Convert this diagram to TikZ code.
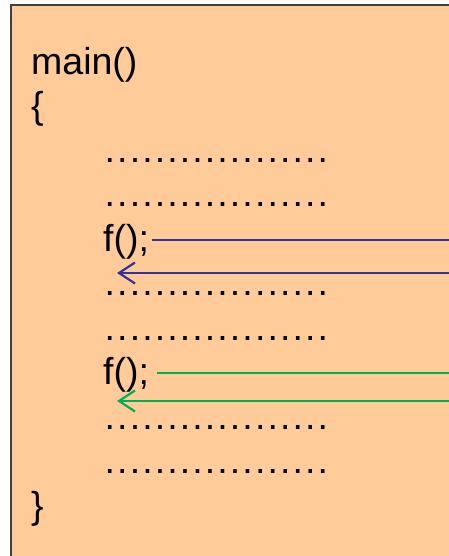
\documentclass[tikz,border=0pt]{standalone}
\usepackage{fontspec}
\setmainfont{Liberation Sans}
\usetikzlibrary{arrows.meta}
\definecolor{peach}{HTML}{FFCC99}
\definecolor{boxgray}{HTML}{404040}
\definecolor{callblue}{HTML}{333399}
\definecolor{callgreen}{HTML}{00B050}
\newcommand\codedots{\foreach \k in {1,...,17}{.\kern2.1pt}.}
\tikzset{
  code/.style={anchor=base west, inner sep=0pt, font=\fontsize{37.5}{45}\selectfont},
  callline/.style={line width=2pt},
  retline/.style={line width=2.2pt, -{Straight Barb[length=16pt, width=21pt]}},
}
\begin{document}
\begin{tikzpicture}[x=1pt, y=-1pt]
  \useasboundingbox (0,0) rectangle (449,556);
  \clip (0,0) rectangle (449,556);
  \fill[peach] (11,5) rectangle (460,570);
  \draw[boxgray, line width=1.5pt] (460,5) -- (11,5) -- (11,570);
  % code lines
  \node[code] (head) at (31,75) {main()};
  \node[code] (open) at (31,119) {\{};
  \foreach \row in {2,3,5,6,8,9}
    \node[code] (dots\row) at (104.5,73+44.5*\row) {\codedots};
  \node[code] (fa) at (103,251) {f();};
  \node[code] (fb) at (103,384.5) {f();};
  \node[code] (close) at (31,518) {\}};
  % calls and returns
  \coordinate (outa) at (449,240);
  \coordinate (backa) at (449,273);
  \coordinate (outb) at (449,373);
  \coordinate (backb) at (449,401);
  \draw[callline, callblue] ([xshift=3pt]fa.east |- outa) -- (outa);
  \draw[retline, callblue] (backa) -- ([xshift=14pt]fa.west |- backa);
  \draw[callline, callgreen] ([xshift=8pt]fb.east |- outb) -- (outb);
  \draw[retline, callgreen] (backb) -- ([xshift=14pt]fb.west |- backb);
\end{tikzpicture}
\end{document}
